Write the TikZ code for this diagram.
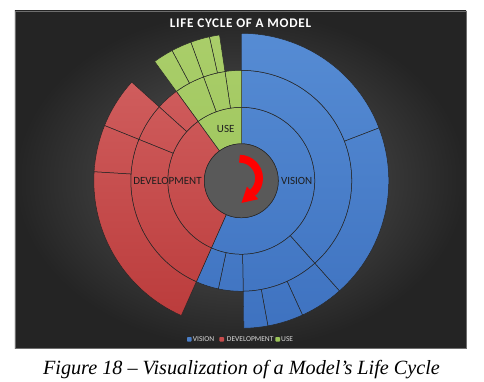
\documentclass[tikz,border=0pt]{standalone}
\usepackage{fontspec}
\newfontfamily\chartfont{Carlito}
\newfontfamily\titlefont[LetterSpace=5.5]{Carlito}
\newfontfamily\capfont{Liberation Serif}
\definecolor{vbluetop}{RGB}{86,140,212}
\definecolor{vbluebot}{RGB}{62,114,192}
\definecolor{vblue}{RGB}{74,126,199}
\definecolor{dredtop}{RGB}{212,100,100}
\definecolor{dredbot}{RGB}{186,58,58}
\definecolor{dred}{RGB}{200,76,76}
\definecolor{ugreentop}{RGB}{170,206,106}
\definecolor{ugreenbot}{RGB}{150,192,84}
\definecolor{ugreen}{RGB}{155,196,89}
\definecolor{holegray}{RGB}{89,89,89}
\definecolor{bgin}{RGB}{92,92,92}
\definecolor{bgout}{RGB}{36,36,36}
\definecolor{bgframe}{RGB}{110,110,110}
\definecolor{segline}{RGB}{38,38,38}
\definecolor{lbltext}{RGB}{30,30,30}
\definecolor{legtext}{RGB}{217,217,217}
\definecolor{arrowred}{RGB}{255,0,0}
\newcommand\sbw[5]{\path[draw=segline, line width=0.5pt,
   path picture={\shade[top color=#5top, bottom color=#5bot] (-150,150) rectangle (150,-150);}]
  (#3:#1) arc[start angle=#3, end angle=#4, radius=#1] -- (#4:#2)
  arc[start angle=#4, end angle=#3, radius=#2] -- cycle;}
\tikzset{
  lbl/.style={font=\chartfont\fontsize{11}{13}\selectfont, text=lbltext, inner sep=0pt},
  charttitle/.style={font=\titlefont\bfseries\fontsize{13.2}{16}\selectfont, text=white, inner sep=0pt},
  legtxt/.style={font=\chartfont\fontsize{7.5}{9}\selectfont, text=legtext, inner sep=0pt},
  legsq/.style={minimum size=4.6pt, inner sep=0pt, rounded corners=0.8pt},
  capt/.style={font=\capfont\itshape\fontsize{20.2}{24}\selectfont, text=black, inner sep=0pt}
}
\begin{document}
\begin{tikzpicture}[x=1pt,y=1pt]
\useasboundingbox (-241.3,-201.2) rectangle (242.7,180.8);
\fill[white] (-241.3,-201.2) rectangle (242.7,180.8);
\shade[inner color=bgin, outer color=bgout, draw=bgframe, line width=0.6pt]
  (-226.3,169.8) rectangle (224.7,-167.2);
% ring 1
\sbw{37}{73.5}{90}{-114}{vblue}
\sbw{37}{73.5}{126}{246}{dred}
\sbw{37}{73.5}{90}{126}{ugreen}
% ring 2
\sbw{73.5}{110.5}{90}{-48.3}{vblue}
\sbw{73.5}{110.5}{-48.3}{-89}{vblue}
\sbw{73.5}{110.5}{-89}{-102}{vblue}
\sbw{73.5}{110.5}{-102}{-114}{vblue}
\sbw{73.5}{110.5}{90}{98.5}{ugreen}
\sbw{73.5}{110.5}{98.5}{110}{ugreen}
\sbw{73.5}{110.5}{110}{126}{ugreen}
\sbw{73.5}{110.5}{126}{138}{dred}
\sbw{73.5}{110.5}{138}{158}{dred}
\sbw{73.5}{110.5}{158}{246}{dred}
% ring 3
\sbw{110.5}{147.5}{90}{21}{vblue}
\sbw{110.5}{147.5}{21}{-48.3}{vblue}
\sbw{110.5}{147.5}{-48.3}{-65.5}{vblue}
\sbw{110.5}{147.5}{-65.5}{-79.6}{vblue}
\sbw{110.5}{147.5}{-79.6}{-89}{vblue}
\sbw{110.5}{147.5}{98.5}{102.5}{ugreen}
\sbw{110.5}{147.5}{102.5}{110}{ugreen}
\sbw{110.5}{147.5}{110}{118}{ugreen}
\sbw{110.5}{147.5}{118}{126}{ugreen}
\sbw{110.5}{147.5}{138}{158}{dred}
\sbw{110.5}{147.5}{158}{176.5}{dred}
\sbw{110.5}{147.5}{176.5}{246}{dred}
% hole
\fill[holegray, draw=segline, line width=0.5pt] (0,0) circle (37);
% red arrow
\draw[arrowred, line width=7.8pt] (-1.8,22.1) arc[start angle=90, end angle=-48, radius=19.6];
\fill[arrowred] (17.0,-18.39) -- (5.62,-5.75) -- (0.16,-22.11) -- cycle;
% labels
\node[lbl, anchor=base] (vision) at (55.4,-3.5) {VISION};
\node[lbl, anchor=base] (development) at (-73.8,-3.5) {DEVELOPMENT};
\node[lbl, anchor=base] (use) at (-15.6,48.3) {USE};
\node[charttitle, anchor=base] (title) at (-0.8,153.5) {LIFE CYCLE OF A MODEL};
% legend
\node[legsq, fill=vblue] (sqv) at (-52,-158.5) {};
\node[legtxt, anchor=west] (legv) at (-48.6,-158.5) {VISION};
\node[legsq, fill=dred] (sqd) at (-19.6,-158.5) {};
\node[legtxt, anchor=west] (legd) at (-14.6,-158.5) {DEVELOPMENT};
\node[legsq, fill=ugreen] (squ) at (36.4,-158.5) {};
\node[legtxt, anchor=west] (legu) at (39.7,-158.5) {USE};
% caption
\node[capt, anchor=base] (caption) at (0.2,-193.5) {Figure 18 – Visualization of a Model’s Life Cycle};
\end{tikzpicture}
\end{document}
